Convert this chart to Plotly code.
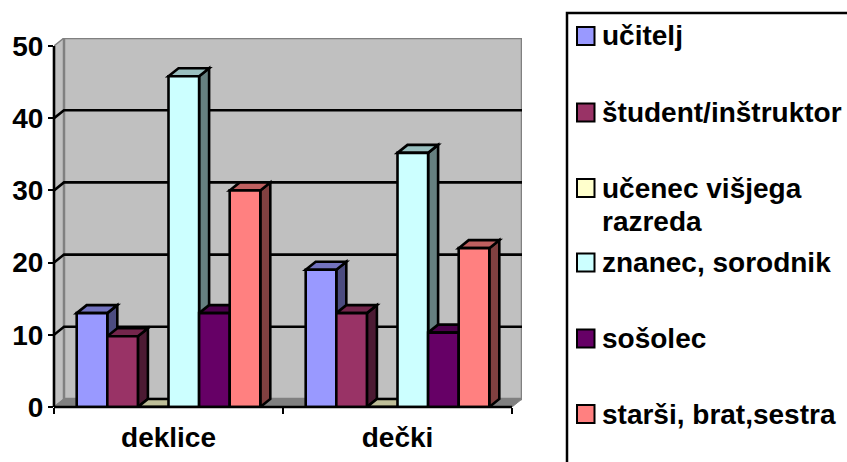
import plotly.graph_objects as go

categories = ["deklice", "dečki"]
series_names = ["učitelj", "študent/inštruktor", "učenec višjega<br>razreda",
                "znanec, sorodnik", "sošolec", "starši, brat,sestra"]
values_ucitelj = [13, 19]
values_student = [9.8, 13]
values_ucenec = [0, 0]
values_znanec = [45.8, 35.2]
values_sosolec = [13, 10.3]
values_starsi = [30, 22]
y_ticks = [0, 10, 20, 30, 40, 50]

all_values = [values_ucitelj, values_student, values_ucenec,
              values_znanec, values_sosolec, values_starsi]
colors = ["#9999FF", "#993366", "#FFFFCC", "#CCFFFF", "#660066", "#FF8080"]

W, H = 847, 462
L, R, T, B = 54, 522, 38, 407          # plot area in pixels
BAND = 229.0                           # px per category
DEPTH_PX_X, DEPTH_PX_Y = 10.0, 8.0
PX_PER_UNIT = 7.22
dx = DEPTH_PX_X / BAND
dy = DEPTH_PX_Y / PX_PER_UNIT
ymax = 50 + dy
bar_w = 30.6 / BAND
bargap = 1 - 6 * bar_w
FONT_SIZE = 28
LW = 2.6


def shade(hexcol, f):
    r, g, b = (int(hexcol[i:i + 2], 16) for i in (1, 3, 5))
    return f"rgb({round(r * f)},{round(g * f)},{round(b * f)})"


def poly(points):
    return "M" + "L".join(f"{x},{y}" for x, y in points) + "Z"


def px_x(p):
    return (p - L) / (R - L)


def px_y(p):
    return (B - p) / (B - T)


shapes = []
WALL = "#C0C0C0"
EDGE = "#808080"
x0, x1 = -0.5, 1.5
# side wall, back wall, floor
shapes.append(dict(type="path", path=poly([(x0, 0), (x0, 50), (x0 + dx, ymax), (x0 + dx, dy)]),
                   fillcolor=WALL, line=dict(color=EDGE, width=1.5), layer="below"))
shapes.append(dict(type="path", path=poly([(x0 + dx, dy), (x0 + dx, ymax), (x1 + dx, ymax), (x1 + dx, dy)]),
                   fillcolor=WALL, line=dict(color=EDGE, width=2.5), layer="below"))
shapes.append(dict(type="path", path=poly([(x0, 0), (x0 + dx, dy), (x1 + dx, dy), (x1, 0)]),
                   fillcolor=EDGE, line=dict(color=EDGE, width=1), layer="below"))
# gridlines on the wall with their slanted lead-ins
for v in y_ticks[1:-1]:
    shapes.append(dict(type="path", path=f"M{x0},{v}L{x0 + dx},{v + dy}L{x1 + dx},{v + dy}",
                       line=dict(color="black", width=LW), layer="below"))
# side and top faces of the bars, painted left to right
for c in range(len(categories)):
    for i, vals in enumerate(all_values):
        v = vals[c]
        a = c + (i - 3) * bar_w
        b = a + bar_w
        if v > 0:
            shapes.append(dict(type="path", path=poly([(b, 0), (b, v), (b + dx, v + dy), (b + dx, dy)]),
                               fillcolor=shade(colors[i], 0.5), line=dict(color="black", width=LW), layer="below"))
        shapes.append(dict(type="path", path=poly([(a, v), (a + dx, v + dy), (b + dx, v + dy), (b, v)]),
                           fillcolor=shade(colors[i], 0.75), line=dict(color="black", width=LW), layer="below"))

# front axis lines
shapes.append(dict(type="line", xref="paper", yref="paper", x0=0, x1=px_x(512), y0=0, y1=0,
                   line=dict(color="black", width=LW), layer="above"))
shapes.append(dict(type="line", xref="paper", yref="paper", x0=0, x1=0, y0=0, y1=50 / ymax,
                   line=dict(color="black", width=LW), layer="above"))

# legend box and swatches
shapes.append(dict(type="rect", xref="paper", yref="paper", x0=px_x(567), x1=px_x(880),
                   y0=px_y(480), y1=px_y(13), line=dict(color="black", width=2.5),
                   fillcolor="rgba(0,0,0,0)", layer="above"))
legend_swatch_y = [36, 112.5, 188, 262.5, 338.5, 414]
LINE_GAP = 33
annotations = []
font = dict(family="Liberation Sans", size=FONT_SIZE, color="black", weight="bold")
for name, col, sy in zip(series_names, colors, legend_swatch_y):
    shapes.append(dict(type="rect", xref="paper", yref="paper", x0=px_x(577), x1=px_x(594.5),
                       y0=px_y(sy + 9), y1=px_y(sy - 9), fillcolor=col,
                       line=dict(color="black", width=2), layer="above"))
    for k, line in enumerate(name.split("<br>")):
        annotations.append(dict(xref="paper", yref="paper", x=px_x(600), y=px_y(sy + k * LINE_GAP), text=line,
                                showarrow=False, xanchor="left", yanchor="middle", align="left", font=font))

fig = go.Figure()
for name, col, vals in zip(series_names, colors, all_values):
    fig.add_trace(go.Bar(x=[0, 1], y=vals, name=name.replace("<br>", " "),
                         marker=dict(color=col, line=dict(color="black", width=LW)),
                         showlegend=False))

fig.update_layout(
    width=W, height=H, barmode="group", bargap=bargap, bargroupgap=0,
    margin=dict(l=L, r=W - R, t=T, b=H - B, autoexpand=False),
    paper_bgcolor="white", plot_bgcolor="white", showlegend=False,
    shapes=shapes, annotations=annotations,
    font=dict(family="Liberation Sans", color="black"),
    xaxis=dict(range=[x0, x1 + dx], tickmode="array", tickvals=[0, 1], ticktext=categories,
               ticks="", showgrid=False, zeroline=False, showline=False, ticklabelstandoff=11,
               tickfont=font,
               minor=dict(tickmode="array", tickvals=[-0.5, 0.5, 1.5], ticks="outside", ticklen=6,
                          tickwidth=2, tickcolor="black", showgrid=False)),
    yaxis=dict(range=[0, ymax], tickmode="array", tickvals=y_ticks, ticks="outside", ticklen=5,
               tickwidth=2, tickcolor="black", showgrid=False, zeroline=False, showline=False,
               ticklabelstandoff=-1, tickfont=font),
)

fig.write_html("out.html", config=dict(displayModeBar=False),
               post_script="document.body.style.margin='0';document.body.style.overflow='hidden';")
